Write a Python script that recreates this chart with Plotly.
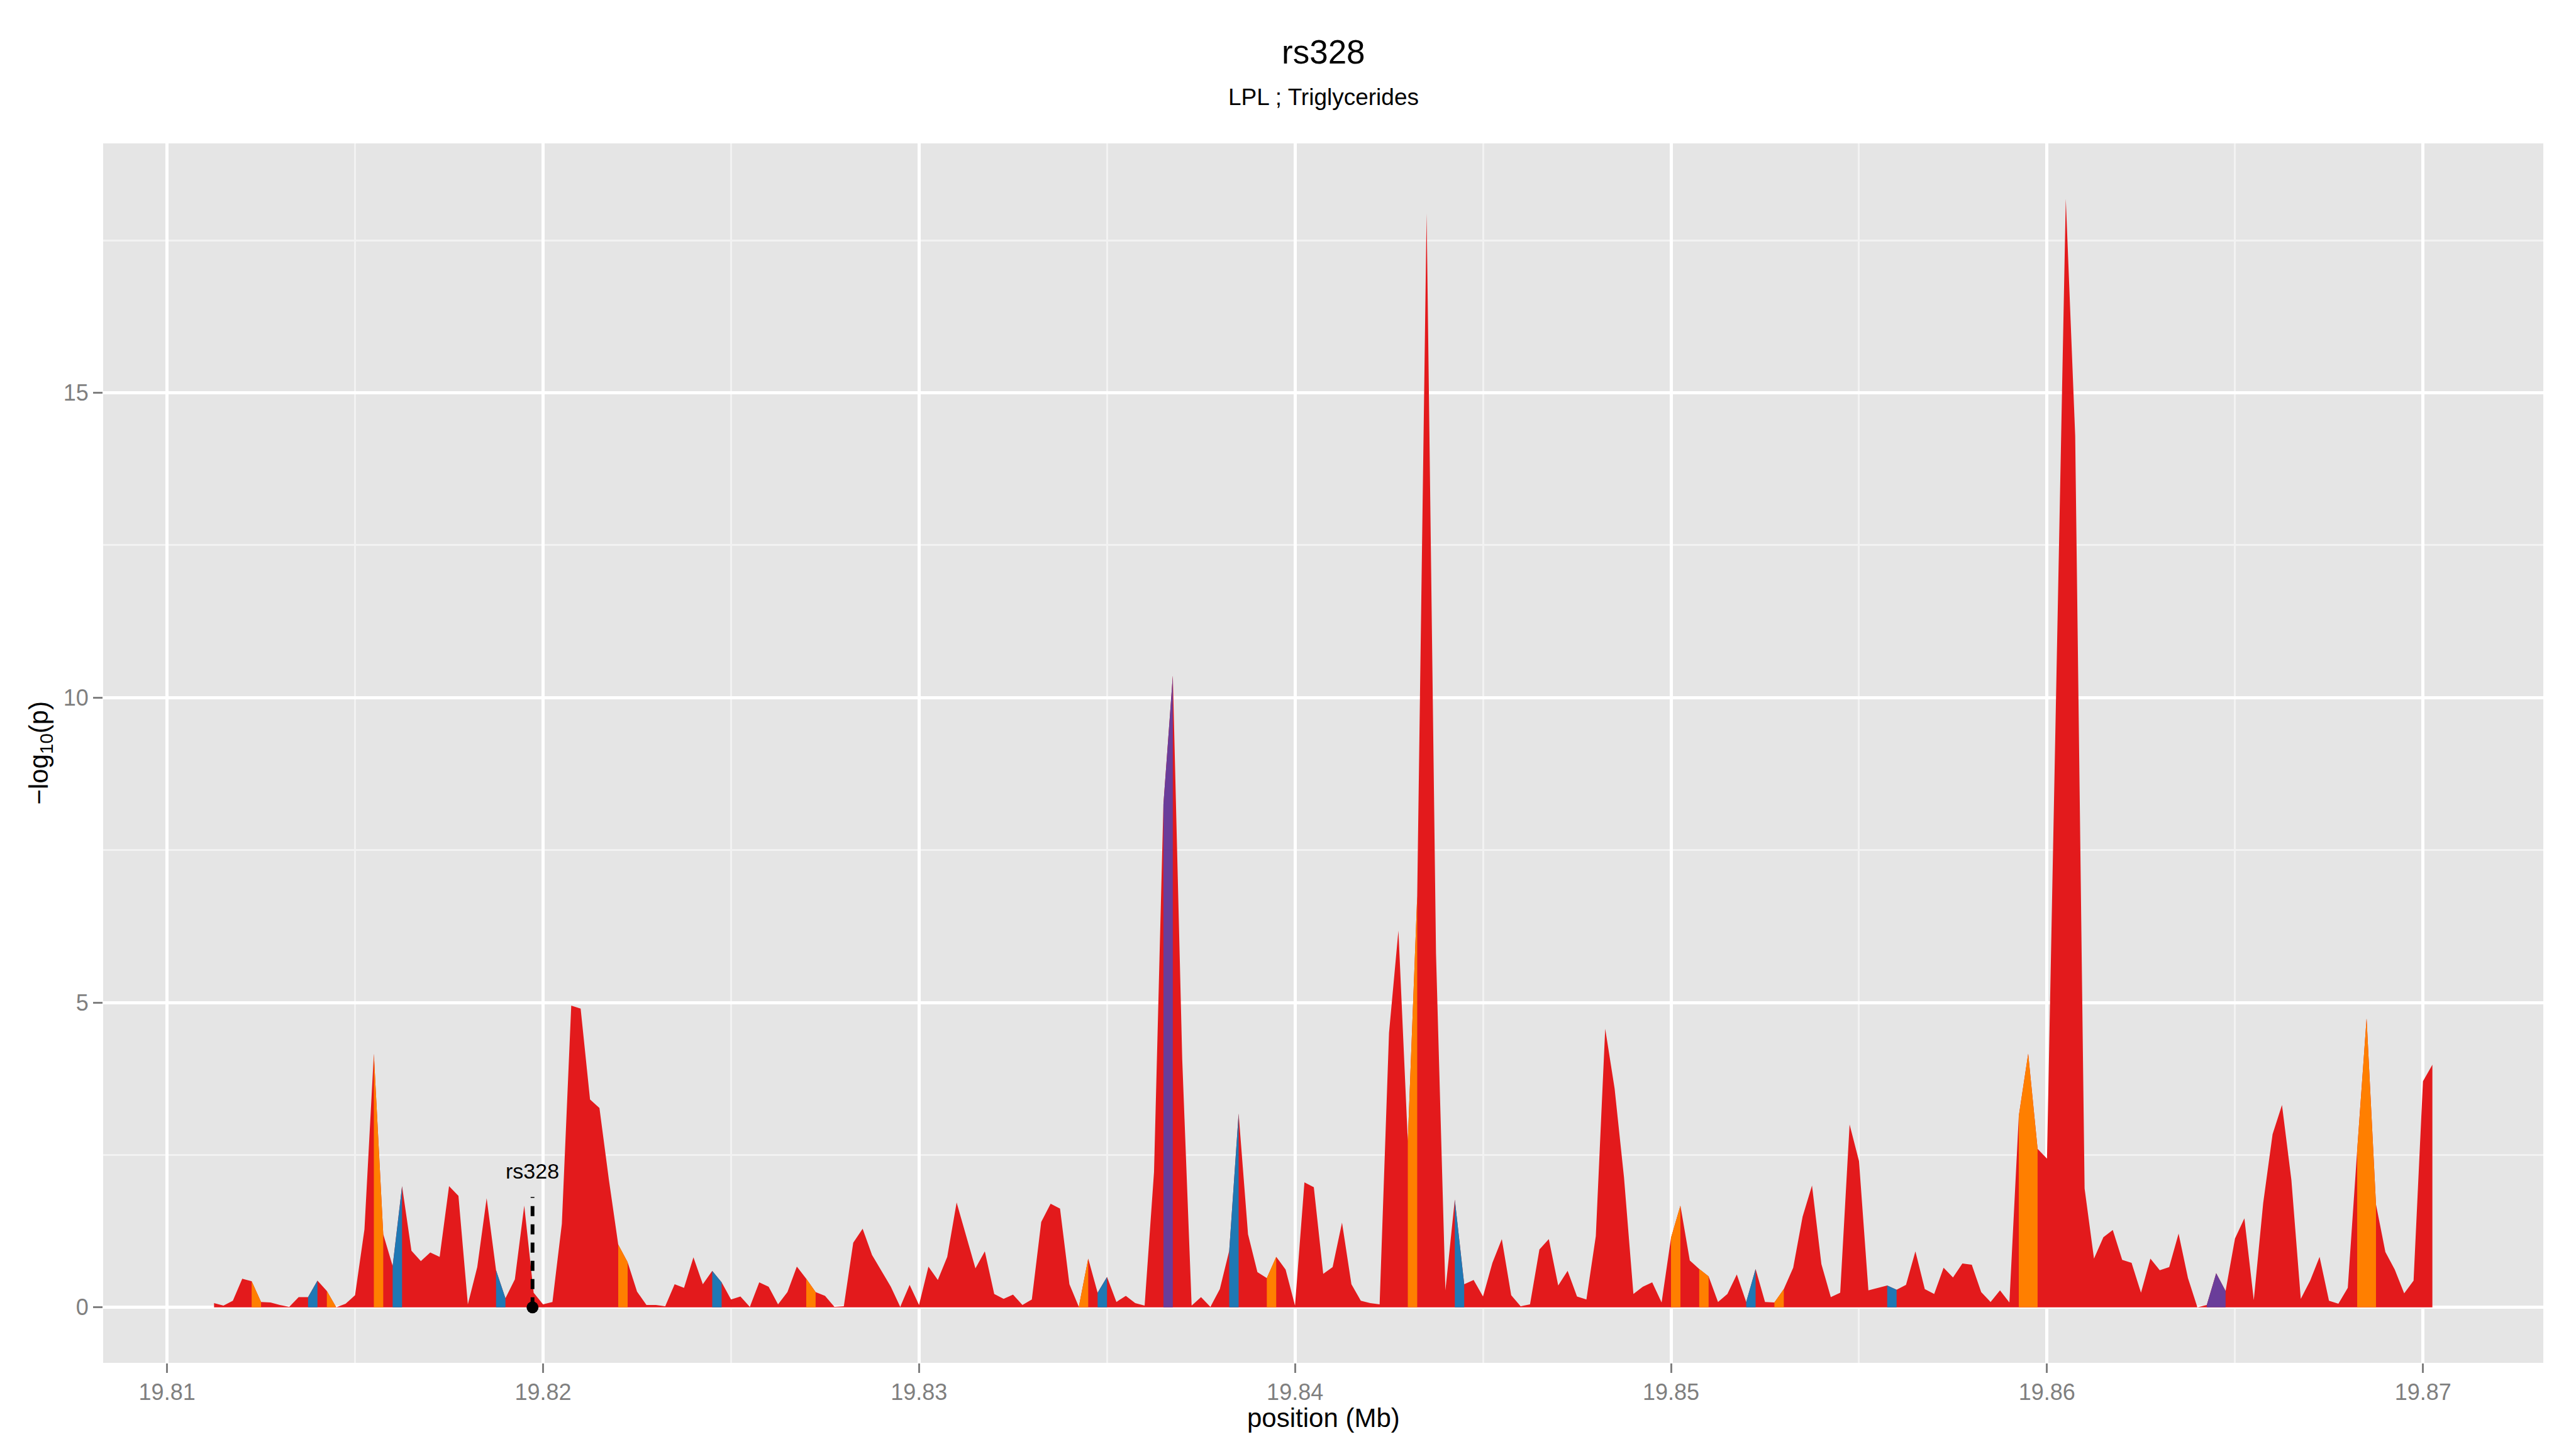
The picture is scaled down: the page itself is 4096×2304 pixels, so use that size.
import plotly.graph_objects as go

# ---------------- data ----------------
positions_mb = [
    19.81125, 19.8115, 19.81175, 19.812,
    19.81225, 19.8125, 19.81275, 19.813,
    19.81325, 19.8135, 19.81375, 19.814,
    19.81425, 19.8145, 19.81475, 19.815,
    19.81525, 19.8155, 19.81575, 19.816,
    19.81625, 19.8165, 19.81675, 19.817,
    19.81725, 19.8175, 19.81775, 19.818,
    19.81825, 19.8185, 19.81875, 19.819,
    19.81925, 19.8195, 19.81975, 19.82,
    19.82025, 19.8205, 19.82075, 19.821,
    19.82125, 19.8215, 19.82175, 19.822,
    19.82225, 19.8225, 19.82275, 19.823,
    19.82325, 19.8235, 19.82375, 19.824,
    19.82425, 19.8245, 19.82475, 19.825,
    19.82525, 19.8255, 19.82575, 19.826,
    19.82625, 19.8265, 19.82675, 19.827,
    19.82725, 19.8275, 19.82775, 19.828,
    19.82825, 19.8285, 19.82875, 19.829,
    19.82925, 19.8295, 19.82975, 19.83,
    19.83025, 19.8305, 19.83075, 19.831,
    19.83125, 19.8315, 19.83175, 19.832,
    19.83225, 19.8325, 19.83275, 19.833,
    19.83325, 19.8335, 19.83375, 19.834,
    19.83425, 19.8345, 19.83475, 19.835,
    19.83525, 19.8355, 19.83575, 19.836,
    19.83625, 19.8365, 19.83675, 19.837,
    19.83725, 19.8375, 19.83775, 19.838,
    19.83825, 19.8385, 19.83875, 19.839,
    19.83925, 19.8395, 19.83975, 19.84,
    19.84025, 19.8405, 19.84075, 19.841,
    19.84125, 19.8415, 19.84175, 19.842,
    19.84225, 19.8425, 19.84275, 19.843,
    19.84325, 19.8435, 19.84375, 19.844,
    19.84425, 19.8445, 19.84475, 19.845,
    19.84525, 19.8455, 19.84575, 19.846,
    19.84625, 19.8465, 19.84675, 19.847,
    19.84725, 19.8475, 19.84775, 19.848,
    19.84825, 19.8485, 19.84875, 19.849,
    19.84925, 19.8495, 19.84975, 19.85,
    19.85025, 19.8505, 19.85075, 19.851,
    19.85125, 19.8515, 19.85175, 19.852,
    19.85225, 19.8525, 19.85275, 19.853,
    19.85325, 19.8535, 19.85375, 19.854,
    19.85425, 19.8545, 19.85475, 19.855,
    19.85525, 19.8555, 19.85575, 19.856,
    19.85625, 19.8565, 19.85675, 19.857,
    19.85725, 19.8575, 19.85775, 19.858,
    19.85825, 19.8585, 19.85875, 19.859,
    19.85925, 19.8595, 19.85975, 19.86,
    19.86025, 19.8605, 19.86075, 19.861,
    19.86125, 19.8615, 19.86175, 19.862,
    19.86225, 19.8625, 19.86275, 19.863,
    19.86325, 19.8635, 19.86375, 19.864,
    19.86425, 19.8645, 19.86475, 19.865,
    19.86525, 19.8655, 19.86575, 19.866,
    19.86625, 19.8665, 19.86675, 19.867,
    19.86725, 19.8675, 19.86775, 19.868,
    19.86825, 19.8685, 19.86875, 19.869,
    19.86925, 19.8695, 19.86975, 19.87,
    19.87025,
]

neglog10p = [
    0.07, 0.03, 0.11, 0.47, 0.43, 0.09, 0.08, 0.04, 0.01, 0.17,
    0.17, 0.44, 0.27, 0.00, 0.06, 0.20, 1.28, 4.16, 1.20, 0.68,
    1.99, 0.93, 0.76, 0.90, 0.83, 1.99, 1.83, 0.05, 0.66, 1.79,
    0.61, 0.15, 0.46, 1.67, 0.24, 0.05, 0.09, 1.37, 4.95, 4.90,
    3.41, 3.27, 2.10, 1.03, 0.74, 0.26, 0.04, 0.04, 0.02, 0.38,
    0.32, 0.82, 0.38, 0.60, 0.41, 0.13, 0.18, 0.01, 0.41, 0.34,
    0.05, 0.25, 0.67, 0.47, 0.25, 0.19, 0.01, 0.02, 1.06, 1.29,
    0.86, 0.60, 0.34, 0.01, 0.37, 0.04, 0.67, 0.45, 0.83, 1.72,
    1.17, 0.64, 0.92, 0.22, 0.14, 0.21, 0.04, 0.13, 1.40, 1.70,
    1.62, 0.38, 0.01, 0.80, 0.24, 0.50, 0.09, 0.19, 0.07, 0.03,
    2.22, 8.25, 10.36, 4.07, 0.03, 0.17, 0.01, 0.30, 0.93, 3.18,
    1.20, 0.58, 0.48, 0.83, 0.62, 0.03, 2.05, 1.97, 0.55, 0.66,
    1.39, 0.38, 0.11, 0.07, 0.05, 4.50, 6.18, 2.73, 6.75, 17.94,
    5.80, 0.28, 1.77, 0.38, 0.45, 0.18, 0.73, 1.12, 0.20, 0.02,
    0.05, 0.95, 1.12, 0.36, 0.60, 0.18, 0.13, 1.17, 4.57, 3.59,
    2.13, 0.22, 0.34, 0.41, 0.08, 1.14, 1.67, 0.77, 0.63, 0.51,
    0.09, 0.22, 0.54, 0.09, 0.63, 0.09, 0.08, 0.30, 0.65, 1.49,
    2.00, 0.71, 0.17, 0.24, 3.00, 2.40, 0.28, 0.32, 0.36, 0.29,
    0.37, 0.92, 0.30, 0.22, 0.65, 0.49, 0.72, 0.70, 0.25, 0.09,
    0.28, 0.08, 3.14, 4.16, 2.60, 2.44, 10.30, 18.18, 14.29, 1.95,
    0.80, 1.15, 1.27, 0.78, 0.73, 0.24, 0.80, 0.61, 0.66, 1.21,
    0.48, 0.00, 0.04, 0.56, 0.27, 1.13, 1.46, 0.12, 1.71, 2.84,
    3.32, 2.09, 0.14, 0.44, 0.83, 0.11, 0.06, 0.32, 2.58, 4.74,
    1.69, 0.91, 0.62, 0.23, 0.44, 3.71, 3.98,
]

# segments (start index -> next point) whose fill is not the default class
orange_segments = [4, 12, 17, 43, 63, 92, 112, 127, 155, 158, 166, 192, 193, 228, 229]
blue_segments = [10, 19, 30, 53, 94, 108, 132, 163, 178]
purple_segments = [101, 212, 213]

snp_label = "rs328"
snp_position_mb = 19.81972
snp_label_height = 2.24
snp_line_top = 1.81

title_text = "rs328"
subtitle_text = "LPL ; Triglycerides"
x_tick_values = [19.81, 19.82, 19.83, 19.84, 19.85, 19.86, 19.87]
x_tick_labels = ["19.81", "19.82", "19.83", "19.84", "19.85", "19.86", "19.87"]
y_tick_values = [0, 5, 10, 15]
y_tick_labels = ["0", "5", "10", "15"]

# ---------------- styling ----------------
RED = "#E31A1C"
ORANGE = "#FF7F00"
BLUE = "#1F78B4"
PURPLE = "#6A3D9A"
FONT = "Liberation Sans, Arial, Helvetica, sans-serif"

OFF = 8  # page body margin offset
W, H = 4096 - OFF, 2304 - OFF
ML, MR, MT, MB = 164 - OFF, 52, 228 - OFF, 137
PW, PH = W - ML - MR, H - MT - MB


def seg_polys(idx_list):
    xs, ys = [], []
    for k in idx_list:
        xs += [positions_mb[k], positions_mb[k], positions_mb[k + 1], positions_mb[k + 1], positions_mb[k], None]
        ys += [0, neglog10p[k], neglog10p[k + 1], 0, 0, None]
    return xs, ys


fig = go.Figure()

fig.add_trace(go.Scatter(
    x=positions_mb, y=neglog10p, mode="lines", fill="tozeroy",
    fillcolor=RED, line=dict(width=0, color=RED), hoverinfo="skip", showlegend=False,
))

for idx_list, col in [(orange_segments, ORANGE), (blue_segments, BLUE), (purple_segments, PURPLE)]:
    sx, sy = seg_polys(idx_list)
    fig.add_trace(go.Scatter(
        x=sx, y=sy, mode="lines", fill="toself", fillcolor=col,
        line=dict(width=0, color=col), hoverinfo="skip", showlegend=False,
    ))

# SNP marker: dashed line + point
fig.add_trace(go.Scatter(
    x=[snp_position_mb, snp_position_mb], y=[0, snp_line_top], mode="lines",
    line=dict(color="black", width=6, dash="16px,13px"), hoverinfo="skip", showlegend=False,
))
fig.add_trace(go.Scatter(
    x=[snp_position_mb], y=[0], mode="markers",
    marker=dict(color="black", size=19), hoverinfo="skip", showlegend=False,
))

y_min = 0.0
y_max = max(neglog10p)
y_pad = (y_max - y_min) * 0.05
x_min, x_max = positions_mb[0], positions_mb[-1]
x_pad = (x_max - x_min) * 0.05


def py(page_y):
    # page pixel y -> paper coordinate
    return 1 - (page_y - OFF - MT) / PH


def px(page_x):
    return (page_x - OFF - ML) / PW


annotations = [
    dict(x=snp_position_mb, y=snp_label_height, xref="x", yref="y", text=snp_label,
         showarrow=False, font=dict(family=FONT, size=34, color="black"),
         xanchor="center", yanchor="middle"),
    dict(x=0.5, y=py(83), xref="paper", yref="paper", text=title_text,
         showarrow=False, font=dict(family=FONT, size=53, color="black"),
         xanchor="center", yanchor="middle"),
    dict(x=0.5, y=py(154), xref="paper", yref="paper", text=subtitle_text,
         showarrow=False, font=dict(family=FONT, size=37, color="black"),
         xanchor="center", yanchor="middle"),
    dict(x=0.5, y=py(2254), xref="paper", yref="paper", text="position (Mb)",
         showarrow=False, font=dict(family=FONT, size=42, color="black"),
         xanchor="center", yanchor="middle"),
    dict(x=px(64), y=0.5, xref="paper", yref="paper", text="\u2212log<sub>10</sub>(p)",
         showarrow=False, textangle=-90, font=dict(family=FONT, size=42, color="black"),
         xanchor="center", yanchor="middle"),
]

fig.update_layout(
    width=W, height=H,
    margin=dict(l=ML, r=MR, t=MT, b=MB, pad=0),
    paper_bgcolor="white", plot_bgcolor="#E5E5E5",
    font=dict(family=FONT, color="#7F7F7F"),
    showlegend=False,
    annotations=annotations,
    xaxis=dict(
        range=[x_min - x_pad, x_max + x_pad],
        tickvals=x_tick_values, ticktext=x_tick_labels,
        ticks="outside", ticklen=15, tickwidth=2.5, tickcolor="#7F7F7F",
        tickfont=dict(family=FONT, size=36, color="#7F7F7F"),
        showgrid=True, gridcolor="white", gridwidth=5,
        minor=dict(dtick=0.005, tick0=19.805, showgrid=True, gridcolor="#F2F2F2", gridwidth=2.5, ticks=""),
        zeroline=False, showline=False, automargin=False,
    ),
    yaxis=dict(
        range=[y_min - y_pad, y_max + y_pad],
        tickvals=y_tick_values, ticktext=y_tick_labels,
        ticks="outside", ticklen=15, tickwidth=2.5, tickcolor="#7F7F7F",
        tickfont=dict(family=FONT, size=36, color="#7F7F7F"),
        showgrid=True, gridcolor="white", gridwidth=5,
        minor=dict(dtick=2.5, tick0=0, showgrid=True, gridcolor="#F2F2F2", gridwidth=2.5, ticks=""),
        zeroline=False, showline=False, automargin=False,
    ),
)

fig.write_html("out.html")
